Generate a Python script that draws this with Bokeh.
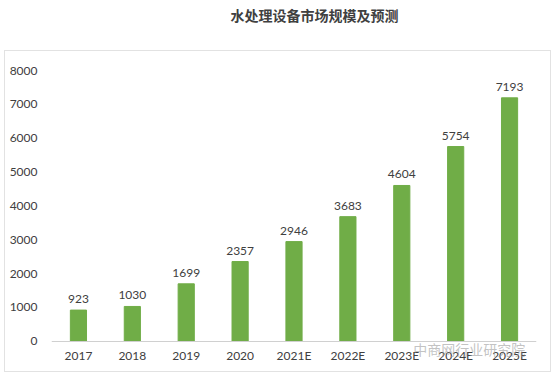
from bokeh.plotting import figure
from bokeh.models import ColumnDataSource, LabelSet, Range1d, Label, Spacer
from bokeh.layouts import column, row
from bokeh.core.properties import value
from bokeh.embed import file_html
from bokeh.resources import INLINE

years = ["2017", "2018", "2019", "2020", "2021E", "2022E", "2023E", "2024E", "2025E"]
sizes = [923, 1030, 1699, 2357, 2946, 3683, 4604, 5754, 7193]
y_ticks = [0, 1000, 2000, 3000, 4000, 5000, 6000, 7000, 8000]
title_text = "水处理设备市场规模及预测"
watermark = "中商网行业研究院"

# ---- title strip ----
t = figure(width=557, height=50, x_range=Range1d(0, 557), y_range=Range1d(0, 50),
           output_backend="svg", toolbar_location=None,
           min_border_left=0, min_border_right=0, min_border_top=0, min_border_bottom=0)
t.axis.visible = False
t.grid.visible = False
t.outline_line_color = None
t.add_layout(Label(x=314, y=36, text=title_text, text_font="Noto Sans CJK SC",
                   text_font_size="14px", text_font_style="bold", text_color="#404040",
                   text_align="center", text_baseline="middle"))

# ---- chart ----
src = ColumnDataSource(dict(x=years, y=sizes, lab=[str(v) for v in sizes]))

p = figure(x_range=years, y_range=Range1d(-950, 8000), width=547, height=322,
           output_backend="svg", toolbar_location=None,
           min_border_left=46, min_border_right=16, min_border_top=19, min_border_bottom=0,
           styles={"border": "1px solid #e2e2e2", "box-sizing": "border-box"})

p.vbar(x="x", top="y", width=0.3, source=src, color="#70AD47")

labels = LabelSet(x="x", y="y", text="lab", source=src, text_align="center",
                  text_baseline="bottom", y_offset=7, text_font=value("Lato"),
                  text_font_size="12px", text_color="#404040")
p.add_layout(labels)

p.xgrid.visible = False
p.ygrid.visible = False
p.outline_line_color = None

p.yaxis.ticker = y_ticks
p.yaxis.axis_line_color = None
p.yaxis.major_tick_line_color = None
p.yaxis.minor_tick_line_color = None
p.yaxis.major_label_standoff = 8
p.yaxis.major_label_text_font = "Lato"
p.yaxis.major_label_text_font_size = "12px"
p.yaxis.major_label_text_color = "#404040"

p.xaxis.fixed_location = 0
p.xaxis.axis_line_color = "#d0d0d0"
p.xaxis.major_tick_line_color = None
p.xaxis.minor_tick_line_color = None
p.xaxis.major_label_standoff = 1
p.xaxis.major_label_text_font = "Lato"
p.xaxis.major_label_text_font_size = "12px"
p.xaxis.major_label_text_color = "#404040"

p.add_layout(Label(x=7.75, y=-230, text=watermark, text_font="Noto Sans CJK SC",
                   text_font_size="14px", text_color="#9a9a9a", text_alpha=0.6,
                   text_align="center", text_baseline="middle"))

layout = column(t, row(Spacer(width=4, height=322), p))

open("out.html", "w").write(file_html(layout, INLINE))
